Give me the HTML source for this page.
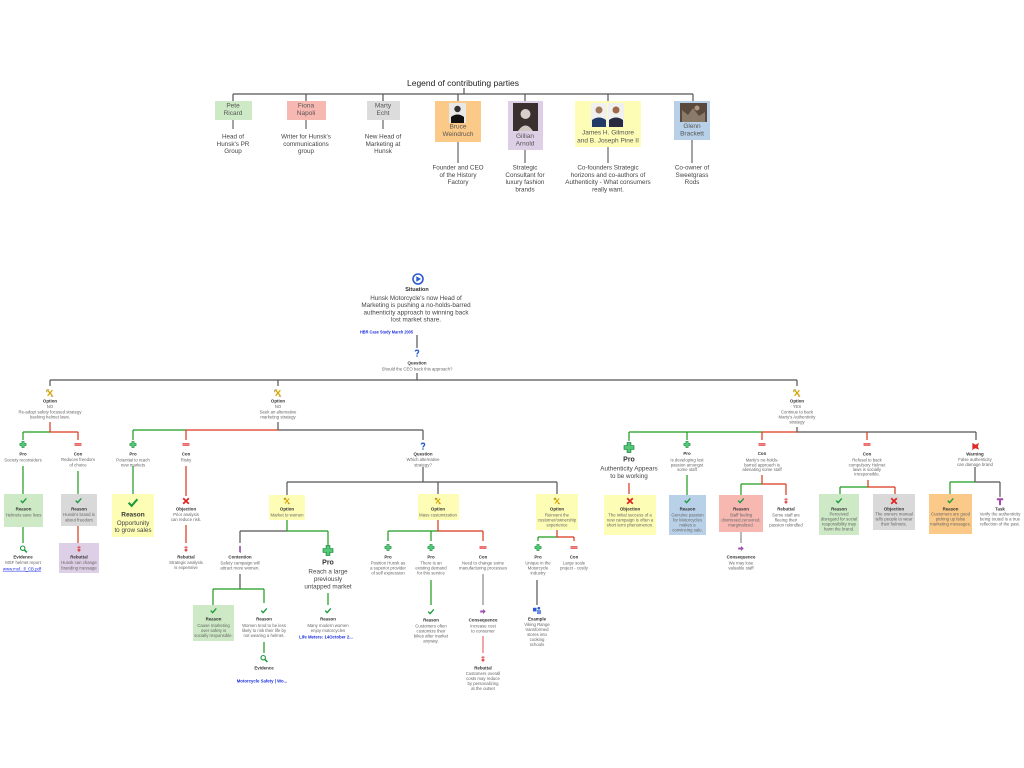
<!DOCTYPE html>
<html><head><meta charset="utf-8"><style>
html,body{margin:0;padding:0;background:#fff;}
svg{display:block;}
text{font-family:"Liberation Sans",Arial,sans-serif;text-anchor:middle;dominant-baseline:central;}
.t{font-size:4.3px;fill:#666;}
.b{font-size:4.4px;font-weight:bold;fill:#333;}
.L{font-size:6.3px;fill:#444;}
.Lb{font-size:6.5px;fill:#555;}
.g{font-size:6.3px;fill:#444;}
.gb{font-size:7px;font-weight:bold;fill:#333;}
.lk{font-size:4.3px;font-weight:bold;fill:#1a2ee0;}
</style></head><body>
<svg width="1024" height="768" viewBox="0 0 1024 768" xmlns="http://www.w3.org/2000/svg">
<defs>
<symbol id="opt" viewBox="0 0 10 10"><path d="M2 1.5L8 8.5M8 1.5L2 8.5" stroke="#d8a400" stroke-width="1.5" fill="none"/><path d="M1 1h3M1 1v3M9 9h-3" stroke="#a07800" stroke-width="0.9" fill="none"/></symbol>
<symbol id="pro" viewBox="0 0 10 10"><path d="M3.3 .5h3.4v2.8h2.8v3.4H6.7v2.8H3.3V6.7H.5V3.3h2.8z" fill="#52c878" stroke="#1d8a3c" stroke-width=".7"/></symbol>
<symbol id="con" viewBox="0 0 10 10"><rect x=".5" y="3.2" width="9" height="3.6" fill="#f58080" stroke="#d84848" stroke-width=".6"/></symbol>
<symbol id="chk" viewBox="0 0 10 10"><path d="M1 5.2L3.8 8L9 2" fill="none" stroke="#1c9a3e" stroke-width="1.9"/></symbol>
<symbol id="x" viewBox="0 0 10 10"><path d="M1.5 1.5L8.5 8.5M8.5 1.5L1.5 8.5" stroke="#e02424" stroke-width="2.2"/></symbol>
<symbol id="reb" viewBox="0 0 10 10"><path d="M5 .5V9.5M2.5 2.5h5M3 5.5l4 2M7 5.5l-4 2" stroke="#e04040" stroke-width="1.2" fill="none"/></symbol>
<symbol id="evi" viewBox="0 0 10 10"><circle cx="4" cy="4" r="2.8" fill="none" stroke="#1c9a3e" stroke-width="1.3"/><path d="M6 6L9.3 9.3" stroke="#1c9a3e" stroke-width="1.9"/></symbol>
<symbol id="q" viewBox="0 0 10 10"><path d="M3 3.2C3 1 7 1 7 3.2C7 5 5 5 5 6.8" fill="none" stroke="#2a5bd0" stroke-width="1.7"/><rect x="4.1" y="8" width="1.8" height="1.6" fill="#2a5bd0"/></symbol>
<symbol id="csq" viewBox="0 0 10 10"><path d="M1 3.5h4v-2l4 3.5-4 3.5v-2h-4z" fill="#a050b0"/></symbol>
<symbol id="cont" viewBox="0 0 10 10"><path d="M4 .5L6 .5L6 9.5L4 8z" fill="#9050a8"/></symbol>
<symbol id="ex" viewBox="0 0 10 10"><rect x=".5" y="2" width="4" height="4" fill="#2a5bd0"/><rect x="5" y="4.5" width="4.5" height="4.5" fill="#6a90e0"/><circle cx="7" cy="2.5" r="1.5" fill="#2a5bd0"/></symbol>
<symbol id="warn" viewBox="0 0 10 10"><path d="M1.5 9.5V1L5 3L9 1L7.5 5L9 8.5L5 7L2.5 8" fill="#e02a2a"/></symbol>
<symbol id="task" viewBox="0 0 10 10"><path d="M1 1h8v2.4H6.2V9.5H3.8V3.4H1z" fill="#a048a8"/></symbol>
</defs>

<!-- LEGEND -->
<text x="463" y="83" style="font-size:8.5px;fill:#222">Legend of contributing parties</text>
<path d="M464 88V94M233 94H693M233 94V101M306 94V101M383 94V101M458 94V101M525 94V101M608 94V101M693 94V101" stroke="#555" stroke-width="1.2" fill="none"/>
<path d="M233 120V129M306 120V129M383 120V129M458 142V163M525 150V163M608 147V163M692 140V163" stroke="#666" stroke-width="1.2" fill="none"/>

<rect x="215" y="101" width="37" height="19" fill="#cde9c5"/>
<text class="Lb" x="233" y="106">Pete</text><text class="Lb" x="233" y="113.5">Ricard</text>
<rect x="287" y="101" width="39" height="19" fill="#f8b8b2"/>
<text class="Lb" x="306" y="106">Fiona</text><text class="Lb" x="306" y="113.5">Napoli</text>
<rect x="367" y="101" width="33" height="19" fill="#dcdcdc"/>
<text class="Lb" x="383" y="106">Marty</text><text class="Lb" x="383" y="113.5">Echt</text>
<rect x="435" y="101" width="46" height="41" fill="#fcca88"/>
<rect x="449" y="103" width="17" height="20" fill="#e8e8e8"/><circle cx="457.5" cy="109" r="3.2" fill="#333"/><path d="M451 123V117Q457.5 112 464 117V123z" fill="#111"/>
<text class="Lb" x="458" y="127">Bruce</text><text class="Lb" x="458" y="134.5">Weindruch</text>
<rect x="508" y="101" width="35" height="49" fill="#ddd0e6"/>
<rect x="513" y="103" width="25" height="28" fill="#3a3030"/><circle cx="525.5" cy="114" r="5" fill="#d8d0c8"/><path d="M518 131Q525.5 120 533 131z" fill="#cfc8c0"/>
<text class="Lb" x="525" y="136.5">Gillian</text><text class="Lb" x="525" y="144">Arnold</text>
<rect x="575" y="101" width="66" height="46" fill="#fdfdb6"/>
<rect x="591" y="103" width="16" height="24" fill="#f0f0f0"/><circle cx="599" cy="110" r="3.5" fill="#a07858"/><path d="M592 127V120Q599 115 606 120V127z" fill="#223a66"/>
<rect x="608" y="103" width="16" height="24" fill="#f0f0f0"/><circle cx="616" cy="110" r="3.5" fill="#a06848"/><path d="M609 127V120Q616 115 623 120V127z" fill="#2a2a40"/>
<text class="Lb" x="608" y="133">James H. Gilmore</text><text class="Lb" x="608" y="141">and B. Joseph Pine II</text>
<rect x="674" y="101" width="36" height="39" fill="#b9d1e8"/>
<rect x="680" y="103" width="27" height="19" fill="#5a4a3e"/><path d="M682 110l6 5 5-7 6 8 6-4v10h-23z" fill="#8a7a6a"/><circle cx="697" cy="108" r="2.5" fill="#b09880"/>
<text class="Lb" x="692" y="126.5">Glenn</text><text class="Lb" x="692" y="134">Brackett</text>

<text class="L" x="233" y="137">Head of</text><text class="L" x="233" y="144.3">Hunsk's PR</text><text class="L" x="233" y="151.6">Group</text>
<text class="L" x="306" y="137">Writer for Hunsk's</text><text class="L" x="306" y="144.3">communications</text><text class="L" x="306" y="151.6">group</text>
<text class="L" x="383" y="137">New Head of</text><text class="L" x="383" y="144.3">Marketing at</text><text class="L" x="383" y="151.6">Hunsk</text>
<text class="L" x="458" y="168">Founder and CEO</text><text class="L" x="458" y="175.3">of the History</text><text class="L" x="458" y="182.6">Factory</text>
<text class="L" x="525" y="168">Strategic</text><text class="L" x="525" y="175.3">Consultant for</text><text class="L" x="525" y="182.6">luxury fashion</text><text class="L" x="525" y="189.9">brands</text>
<text class="L" x="608" y="168">Co-founders Strategic</text><text class="L" x="608" y="175.3">horizons and co-authors of</text><text class="L" x="608" y="182.6">Authenticity - What consumers</text><text class="L" x="608" y="189.9">really want.</text>
<text class="L" x="692" y="168">Co-owner of</text><text class="L" x="692" y="175.3">Sweetgrass</text><text class="L" x="692" y="182.6">Rods</text>

<!-- SITUATION -->
<circle cx="418" cy="279" r="5" fill="#fff" stroke="#2a5bd0" stroke-width="1.6"/>
<path d="M416.3 276.2L421 279L416.3 281.8z" fill="#2a5bd0"/>
<text x="417" y="290" style="font-size:5.5px;font-weight:bold;fill:#333">Situation</text>
<text class="g" x="416" y="298.3">Hunsk Motorcycle's now Head of</text>
<text class="g" x="416" y="305.6">Marketing is pushing a no-holds-barred</text>
<text class="g" x="416" y="312.9">authenticity approach to winning back</text>
<text class="g" x="416" y="320.2">lost market share.</text>
<text x="386.5" y="332" class="lk" textLength="53" lengthAdjust="spacingAndGlyphs">HBR Case Study March 2005</text>
<use href="#q" x="413" y="349" width="8" height="8"/>
<text class="b" x="417" y="363">Question</text>
<text class="t" x="417" y="369">Should the CEO back this approach?</text>

<!-- CONNECTORS gray -->
<path d="M417 335V348M417 373V380M50 380H797M50 380V386M278 380V386M797 380V386M278 422V430M278 430H423M423 430V440M797 427V432M797 432H976M976 432V440M423 467V482M287 482H557M287 482V495M438 482V494M557 482V494M240 531H287M240 531V543M240 574V589M537 580V605M975 467V482M975 482H1000M1000 482V497" stroke="#555" stroke-width="1.2" fill="none"/>
<path d="M483 574V605M741 532V543" stroke="#999" stroke-width="1.4" fill="none"/>
<!-- green -->
<path d="M23 432H50M23 432V440M23 466V494M23 527V543M78 471V494M133 430H186M133 430V440M133 466V494M287 520V531M287 531H328M328 531V545M213 589H264M213 589V605M264 589V603M264 642V653M328 593V605M388 531H438M388 531V541M431 531V541M431 580V605M538 537H557M538 537V541M629 432H762M629 432V441M687 432V440M687 475V495M741 484H762M741 484V495M840 487H868M840 487V494M950 482H975M950 482V494" stroke="#1f9a1f" stroke-width="1.2" fill="none"/>
<!-- red -->
<path d="M50 422V432M50 432H78M78 432V440M78 526V543M186 430H278M186 430V440M186 466V496M186 525V543M438 520V531M438 531H483M483 531V541M557 530V537M557 537H574M574 537V541M762 432H797M762 432V440M867 432V440M629 483V494M762 475V484M762 484H786M786 484V495M868 480V487M868 487H895M895 487V494" stroke="#d9361a" stroke-width="1.2" fill="none"/>
<path d="M483 636V653" stroke="#ee8080" stroke-width="1.4" fill="none"/>

<!-- BOXES -->
<rect x="4" y="494" width="39" height="33" fill="#cde9c5"/>
<rect x="61" y="494" width="36" height="32" fill="#d9d9d9"/>
<rect x="59" y="543" width="40" height="30" fill="#ddd0e6"/>
<rect x="112" y="494" width="42" height="43" fill="#fdfdb5"/>
<rect x="269" y="495" width="36" height="25" fill="#fdfdb5"/>
<rect x="193" y="605" width="41" height="36" fill="#cde9c5"/>
<rect x="418" y="494" width="41" height="26" fill="#fdfdb5"/>
<rect x="536" y="494" width="42" height="36" fill="#fdfdb5"/>
<rect x="604" y="495" width="52" height="40" fill="#fdfdb5"/>
<rect x="669" y="495" width="37" height="40" fill="#b9d1e8"/>
<rect x="719" y="495" width="44" height="37" fill="#f8b8b2"/>
<rect x="819" y="494" width="40" height="41" fill="#cde9c5"/>
<rect x="873" y="494" width="42" height="36" fill="#d9d9d9"/>
<rect x="929" y="494" width="43" height="40" fill="#fcca88"/>

<!-- OPTIONS level -->
<use href="#opt" x="46" y="389" width="8" height="8"/>
<text class="b" x="50" y="401">Option</text><text class="t" x="50" y="406.5">NO</text>
<text class="t" x="50" y="412">Re-adopt safety focused strategy</text><text class="t" x="50" y="417">backing helmet laws.</text>
<use href="#opt" x="274" y="389" width="8" height="8"/>
<text class="b" x="278" y="401">Option</text><text class="t" x="278" y="406.5">NO</text>
<text class="t" x="278" y="412">Seek an alternative</text><text class="t" x="278" y="417">marketing strategy</text>
<use href="#opt" x="793" y="389" width="8" height="8"/>
<text class="b" x="797" y="401">Option</text><text class="t" x="797" y="406.5">YES</text>
<text class="t" x="797" y="412">Continue to back</text><text class="t" x="797" y="417">Marty's Authenticity</text><text class="t" x="797" y="422">strategy</text>

<!-- Option 1 subtree -->
<use href="#pro" x="19.5" y="441" width="7" height="7"/>
<text class="b" x="23" y="454">Pro</text><text class="t" x="23" y="460">Society reconsiders</text>
<use href="#con" x="74.5" y="441" width="7" height="7"/>
<text class="b" x="78" y="454">Con</text><text class="t" x="78" y="459.5">Reduces freedom</text><text class="t" x="78" y="465">of choice</text>
<use href="#chk" x="20" y="497" width="7" height="7"/>
<text class="b" x="23.5" y="509">Reason</text><text class="t" x="23.5" y="515">Helmets save lives</text>
<use href="#evi" x="19.5" y="545" width="8" height="8"/>
<text class="b" x="23" y="557">Evidence</text><text class="t" x="23" y="562.5">MSF helmet report</text>
<text class="lk" x="22" y="569" style="font-weight:normal;text-decoration:underline">www.msf...ll_CB.pdf</text>
<use href="#chk" x="75" y="497" width="7" height="7"/>
<text class="b" x="79" y="509">Reason</text><text class="t" x="79" y="514.5">Hunsk's brand is</text><text class="t" x="79" y="520">about freedom</text>
<use href="#reb" x="75.5" y="545" width="7" height="8"/>
<text class="b" x="79" y="557">Rebuttal</text><text class="t" x="79" y="562.5">Hunsk can change</text><text class="t" x="79" y="568">branding message</text>

<!-- Option 2 subtree -->
<use href="#pro" x="129.5" y="441" width="7" height="7"/>
<text class="b" x="133" y="454">Pro</text><text class="t" x="133" y="460">Potential to reach</text><text class="t" x="133" y="465">new markets</text>
<use href="#chk" x="127.5" y="497" width="11" height="11"/>
<text x="133" y="515" style="font-size:6.5px;font-weight:bold;fill:#333">Reason</text>
<text class="g" x="133" y="523.5">Opportunity</text><text class="g" x="133" y="530.5">to grow sales</text>
<use href="#con" x="182.5" y="441" width="7" height="7"/>
<text class="b" x="186" y="454">Con</text><text class="t" x="186" y="460">Risky</text>
<use href="#x" x="182" y="497" width="8" height="8"/>
<text class="b" x="186" y="509">Objection</text><text class="t" x="186" y="514.5">Prior analysis</text><text class="t" x="186" y="519.5">can reduce risk.</text>
<use href="#reb" x="182.5" y="545" width="7" height="8"/>
<text class="b" x="186" y="557">Rebuttal</text><text class="t" x="186" y="562.5">Strategic analysis</text><text class="t" x="186" y="567.5">is expensive</text>

<use href="#q" x="419" y="442" width="8" height="8"/>
<text class="b" x="423" y="454">Question</text><text class="t" x="423" y="459.5">Which alternative</text><text class="t" x="423" y="465">strategy?</text>

<!-- Market to women -->
<use href="#opt" x="283.5" y="497" width="7" height="8"/>
<text class="b" x="287" y="509">Option</text><text class="t" x="287" y="515">Market to women</text>
<use href="#cont" x="236" y="545" width="8" height="9"/>
<text class="b" x="240" y="557">Contention</text><text class="t" x="240" y="563">Safety campaign will</text><text class="t" x="240" y="568">attract more women.</text>
<use href="#chk" x="210" y="607" width="7" height="7"/>
<text class="b" x="213.5" y="619">Reason</text><text class="t" x="213.5" y="625.5">Cause marketing</text><text class="t" x="213.5" y="630.5">over safety is</text><text class="t" x="213.5" y="635.5">socially responsible.</text>
<use href="#chk" x="260.5" y="607" width="7" height="7"/>
<text class="b" x="264" y="619">Reason</text><text class="t" x="264" y="625.5">Women tend to be less</text><text class="t" x="264" y="630.5">likely to risk their life by</text><text class="t" x="264" y="635.5">not wearing a helmet.</text>
<use href="#evi" x="260" y="654" width="8" height="9"/>
<text class="b" x="264" y="668">Evidence</text>
<text class="lk" x="262" y="681">Motorcycle Safety | Wo...</text>
<use href="#pro" x="322.5" y="545" width="11" height="11"/>
<text class="gb" x="328" y="563">Pro</text>
<text class="g" x="328" y="572">Reach a large</text><text class="g" x="328" y="579.5">previously</text><text class="g" x="328" y="587">untapped market</text>
<use href="#chk" x="324.5" y="607" width="7" height="7"/>
<text class="b" x="328" y="619">Reason</text><text class="t" x="328" y="625.5">Many modern women</text><text class="t" x="328" y="630.5">enjoy motorcycles</text>
<text class="lk" x="326" y="637">Life Meters: 14October 2...</text>

<!-- Mass customization -->
<use href="#opt" x="434.5" y="497" width="7" height="8"/>
<text class="b" x="438" y="509">Option</text><text class="t" x="438" y="515">Mass customization</text>
<use href="#pro" x="384.5" y="544" width="7" height="7"/>
<text class="b" x="388" y="557">Pro</text><text class="t" x="388" y="563">Position Hunsk as</text><text class="t" x="388" y="568">a superior provider</text><text class="t" x="388" y="573">of self expression</text>
<use href="#pro" x="427.5" y="544" width="7" height="7"/>
<text class="b" x="431" y="557">Pro</text><text class="t" x="431" y="563">There is an</text><text class="t" x="431" y="568">existing demand</text><text class="t" x="431" y="573">for this service</text>
<use href="#chk" x="427.5" y="608" width="7" height="7"/>
<text class="b" x="431" y="620">Reason</text><text class="t" x="431" y="626">Customers often</text><text class="t" x="431" y="631">customize their</text><text class="t" x="431" y="636">bikes after market</text><text class="t" x="431" y="641">anyway.</text>
<use href="#con" x="479.5" y="544" width="7" height="7"/>
<text class="b" x="483" y="557">Con</text><text class="t" x="483" y="563">Need to change some</text><text class="t" x="483" y="568">manufacturing processes</text>
<use href="#csq" x="479" y="608" width="8" height="7"/>
<text class="b" x="483" y="620">Consequence</text><text class="t" x="483" y="626">Increase cost</text><text class="t" x="483" y="631">to consumer</text>
<use href="#reb" x="479.5" y="655" width="7" height="8"/>
<text class="b" x="483" y="668">Rebuttal</text><text class="t" x="483" y="673.5">Customers overall</text><text class="t" x="483" y="678.5">costs may reduce</text><text class="t" x="483" y="683.5">by personalizing</text><text class="t" x="483" y="688.5">at the outset</text>

<!-- Reinvent -->
<use href="#opt" x="553.5" y="497" width="7" height="8"/>
<text class="b" x="557" y="509">Option</text><text class="t" x="557" y="515">Reinvent the</text><text class="t" x="557" y="520">customer/ownership</text><text class="t" x="557" y="525">experience</text>
<use href="#pro" x="534.5" y="544" width="7" height="7"/>
<text class="b" x="538" y="557">Pro</text><text class="t" x="538" y="563">Unique in the</text><text class="t" x="538" y="568">Motorcycle</text><text class="t" x="538" y="573">industry</text>
<use href="#ex" x="532" y="606" width="10" height="9"/>
<text class="b" x="537" y="619">Example</text><text class="t" x="537" y="624.5">Viking Range</text><text class="t" x="537" y="629.5">transformed</text><text class="t" x="537" y="634.5">stores into</text><text class="t" x="537" y="639.5">cooking</text><text class="t" x="537" y="644.5">schools</text>
<use href="#con" x="570.5" y="544" width="7" height="7"/>
<text class="b" x="574" y="557">Con</text><text class="t" x="574" y="563">Large scale</text><text class="t" x="574" y="568">project - costly</text>

<!-- Option 3 subtree -->
<use href="#pro" x="623.5" y="442" width="11" height="11"/>
<text class="gb" x="629" y="460">Pro</text>
<text class="g" x="629" y="469">Authenticity Appears</text><text class="g" x="629" y="476.5">to be working</text>
<use href="#x" x="626" y="497" width="8" height="8"/>
<text class="b" x="630" y="509">Objection</text><text class="t" x="630" y="515">The initial success of a</text><text class="t" x="630" y="520">new campaign is often a</text><text class="t" x="630" y="525">short term phenomenon.</text>
<use href="#pro" x="683.5" y="441" width="7" height="7"/>
<text class="b" x="687" y="453.5">Pro</text><text class="t" x="687" y="460">Is developing lost</text><text class="t" x="687" y="465">passion amongst</text><text class="t" x="687" y="469.5">some staff</text>
<use href="#chk" x="684" y="497" width="7" height="7"/>
<text class="b" x="687.5" y="509">Reason</text><text class="t" x="687.5" y="515">Genuine passion</text><text class="t" x="687.5" y="520">for Motorcycles</text><text class="t" x="687.5" y="525">makes a</text><text class="t" x="687.5" y="530">convincing sale.</text>
<use href="#con" x="758.5" y="441" width="7" height="7"/>
<text class="b" x="762" y="453.5">Con</text><text class="t" x="762" y="460">Marty's no-holds-</text><text class="t" x="762" y="465">barred approach is</text><text class="t" x="762" y="469.5">alienating some staff</text>
<use href="#chk" x="737.5" y="497" width="7" height="7"/>
<text class="b" x="741" y="509">Reason</text><text class="t" x="741" y="515">Staff feeling</text><text class="t" x="741" y="520">dismissed,censored,</text><text class="t" x="741" y="525">marginalized.</text>
<use href="#csq" x="737" y="545" width="8" height="7"/>
<text class="b" x="741" y="557">Consequence</text><text class="t" x="741" y="563">We may lose</text><text class="t" x="741" y="568">valuable staff</text>
<use href="#reb" x="782.5" y="497" width="7" height="8"/>
<text class="b" x="786" y="509">Rebuttal</text><text class="t" x="786" y="515">Some staff are</text><text class="t" x="786" y="520">fleeing their</text><text class="t" x="786" y="525">passion rekindled</text>
<use href="#con" x="863.5" y="441" width="7" height="7"/>
<text class="b" x="867" y="454">Con</text><text class="t" x="867" y="460">Refusal to back</text><text class="t" x="867" y="465">compulsory Helmet</text><text class="t" x="867" y="469.5">laws is socially</text><text class="t" x="867" y="474">irresponsible.</text>
<use href="#chk" x="835.5" y="497" width="7" height="7"/>
<text class="b" x="839" y="509">Reason</text><text class="t" x="839" y="514">Perceived</text><text class="t" x="839" y="519">disregard for social</text><text class="t" x="839" y="524">responsibility may</text><text class="t" x="839" y="529">harm the brand.</text>
<use href="#x" x="890" y="497" width="8" height="8"/>
<text class="b" x="894" y="509">Objection</text><text class="t" x="894" y="514">The owners manual</text><text class="t" x="894" y="519">tells people to wear</text><text class="t" x="894" y="524">their helmets.</text>
<use href="#warn" x="971" y="442" width="9" height="9"/>
<text class="b" x="975" y="454">Warning</text><text class="t" x="975" y="459.5">False authenticity</text><text class="t" x="975" y="464.5">can damage brand</text>
<use href="#chk" x="947" y="497" width="7" height="7"/>
<text class="b" x="950.5" y="509">Reason</text><text class="t" x="950.5" y="514">Customers are good</text><text class="t" x="950.5" y="519">picking up false</text><text class="t" x="950.5" y="524">marketing messages.</text>
<use href="#task" x="996" y="497" width="8" height="9"/>
<text class="b" x="1000" y="509">Task</text><text class="t" x="1000" y="514">Verify the authenticity</text><text class="t" x="1000" y="519">being touted is a true</text><text class="t" x="1000" y="524">reflection of the past.</text>
</svg>
</body></html>
